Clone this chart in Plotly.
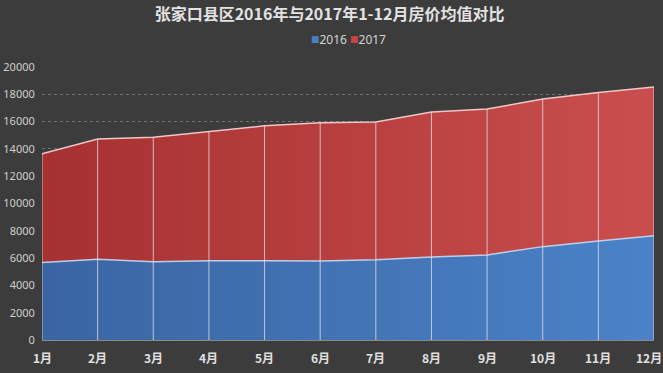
import plotly.graph_objects as go

months = ["1月", "2月", "3月", "4月", "5月", "6月", "7月", "8月", "9月", "10月", "11月", "12月"]
v2016 = [5670, 5920, 5740, 5810, 5810, 5780, 5870, 6080, 6230, 6840, 7260, 7630]
v2017 = [7970, 8800, 9120, 9470, 9880, 10130, 10100, 10620, 10690, 10810, 10880, 10900]
title = "张家口县区2016年与2017年1-12月房价均值对比"
series_names = ["2016", "2017"]
yticks = list(range(0, 20001, 2000))

blue, red = "#4a7fc4", "#c94646"
totals = [a + b for a, b in zip(v2016, v2017)]

fig = go.Figure()
fig.add_trace(go.Scatter(
    x=months, y=v2016, mode="lines", stackgroup="s", name=series_names[0],
    line=dict(color="rgba(200,220,245,0.9)", width=1.5),
    fillgradient=dict(type="horizontal", colorscale=[[0, "#3a65a2"], [1, "#4b82c8"]]),
    showlegend=False, hoverinfo="skip"))
fig.add_trace(go.Scatter(
    x=months, y=v2017, mode="lines", stackgroup="s", name=series_names[1],
    line=dict(color="rgba(245,205,205,0.95)", width=1.5),
    fillgradient=dict(type="horizontal", colorscale=[[0, "#a63132"], [1, "#ca4e4e"]]),
    showlegend=False, hoverinfo="skip"))

# vertical drop lines at each month
dx, dy = [], []
for m, t in zip(months, totals):
    dx += [m, m, None]
    dy += [0, t, None]
fig.add_trace(go.Scatter(x=dx, y=dy, mode="lines",
                         line=dict(color="rgba(235,225,230,0.75)", width=1),
                         showlegend=False, hoverinfo="skip"))

# month labels (last one right-aligned so it stays inside the picture)
for i, m in enumerate(months):
    fig.add_annotation(x=m, y=0, xref="x", yref="y", text=m, showarrow=False,
                       xanchor="right" if i == len(months) - 1 else "center",
                       xshift=10 if i == len(months) - 1 else 0,
                       yanchor="top", yshift=-7,
                       font=dict(family="Noto Sans CJK SC", size=12, color="#e0e0e0", weight="bold"))

# legend as text
legend_text = (f"<span style='color:{blue};font-size:14px'>■</span>{series_names[0]} "
               f"<span style='color:{red};font-size:14px'>■</span>{series_names[1]}")
fig.add_annotation(x=0.5, y=1.103, xref="paper", yref="paper", text=legend_text,
                   showarrow=False, xanchor="center", yanchor="middle",
                   font=dict(family="Noto Sans", size=12, color="#d4d4d4"))

fig.update_layout(
    width=663, height=373,
    paper_bgcolor="#3c3c3c", plot_bgcolor="#3c3c3c",
    margin=dict(l=42, r=9, t=67, b=33, autoexpand=False),
    showlegend=False,
    title=dict(text=title, x=0.497, xanchor="center", y=0.962, yanchor="middle",
               font=dict(family="Noto Sans CJK SC", size=16, color="#e2e2e2", weight="bold")),
    xaxis=dict(type="category", range=[0, 11], showgrid=False, zeroline=False,
               showline=True, linecolor="#8a8a8a", showticklabels=False),
    yaxis=dict(range=[0, 20000], tickvals=yticks, tickformat="d", showgrid=True,
               gridcolor="#707070", griddash="dot", gridwidth=1, zeroline=False,
               tickfont=dict(family="Noto Sans", size=11, color="#cfcfcf"),
               ticks="outside", ticklen=4, tickcolor="rgba(0,0,0,0)"),
)

fig.write_html("out.html", config={"displayModeBar": False},
               post_script="document.body.style.margin='0';")
